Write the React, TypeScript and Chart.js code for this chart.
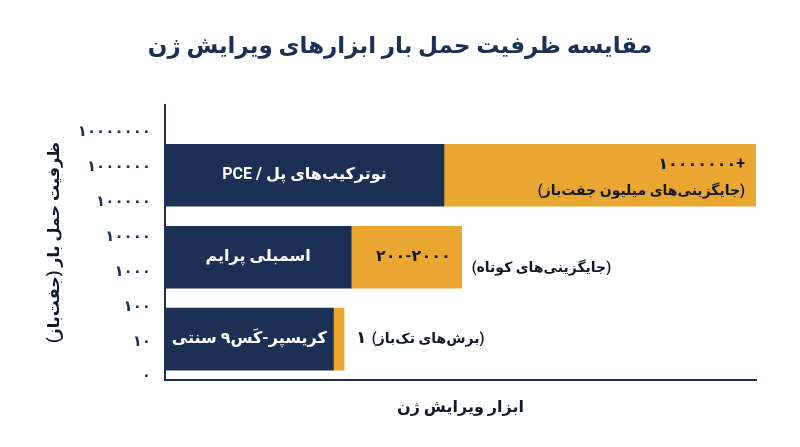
import React, { useEffect, useRef } from "react";
import { Chart, registerables } from "chart.js";

Chart.register(...registerables);

// ---- data ----
const chartTitle = "مقایسه ظرفیت حمل بار ابزارهای ویرایش ژن";
const xTitle = "ابزار ویرایش ژن";
const yTitle = "ظرفیت حمل بار (جفت‌باز)";
const tools = ["نوترکیب‌های پل / PCE", "اسمبلی پرایم", "کریسپر-کَس۹ سنتی"];
const rowPos = [1, 2, 3];
const toolBar = [47.2, 31.5, 28.5];
const rangeBar = [52.8, 18.7, 1.8];
const rangeLabels = ["+۱۰۰۰۰۰۰۰", "۲۰۰-۲۰۰۰", "۱"];
const rangeNotes = ["(جایگزینی‌های میلیون جفت‌باز)", "(جایگزینی‌های کوتاه)", "(برش‌های تک‌باز)"];
const yTickLabels = ["۰", "۱۰", "۱۰۰", "۱۰۰۰", "۱۰۰۰۰", "۱۰۰۰۰۰", "۱۰۰۰۰۰۰", "۱۰۰۰۰۰۰۰"];

const NAVY = "#1b3054";
const ORANGE = "#e9a630";
const FONT = "Roboto, 'DejaVu Sans', sans-serif";

const labelPlugin = {
  id: "barLabels",
  afterDatasetsDraw(chart: any) {
    const ctx = chart.ctx;
    const navy = chart.getDatasetMeta(0);
    const orange = chart.getDatasetMeta(1);
    ctx.save();
    ctx.direction = "rtl";
    ctx.textBaseline = "middle";
    navy.data.forEach((bar: any, i: number) => {
      const p = bar.getProps(["x", "y", "base"], true);
      ctx.font = `bold 16px ${FONT}`;
      ctx.fillStyle = "#ffffff";
      ctx.textAlign = "center";
      ctx.fillText(tools[i], (p.x + p.base) / 2, p.y);
    });
    orange.data.forEach((bar: any, i: number) => {
      const p = bar.getProps(["x", "y", "base"], true);
      const pad = 11;
      const valueFont = `bold 16px ${FONT}`;
      const noteFont = `bold 14px ${FONT}`;
      ctx.font = valueFont;
      const vw = ctx.measureText(rangeLabels[i]).width;
      ctx.font = noteFont;
      const nw = ctx.measureText(rangeNotes[i]).width;
      const inner = p.x - p.base - 2 * pad;
      ctx.fillStyle = "#111827";
      if (vw <= inner && nw <= inner) {
        ctx.textAlign = "right";
        ctx.font = valueFont;
        ctx.fillText(rangeLabels[i], p.x - pad, p.y - 10);
        ctx.font = noteFont;
        ctx.fillText(rangeNotes[i], p.x - pad, p.y + 16);
      } else if (vw <= inner + 2 * pad - 8) {
        ctx.textAlign = "right";
        ctx.font = valueFont;
        ctx.fillText(rangeLabels[i], p.x - pad, p.y);
        ctx.textAlign = "left";
        ctx.font = noteFont;
        ctx.fillText(rangeNotes[i], p.x + 10, p.y + 11);
      } else {
        ctx.textAlign = "left";
        ctx.font = `bold 17px ${FONT}`;
        ctx.fillText(rangeLabels[i], p.x + 12, p.y);
        ctx.font = noteFont;
        ctx.fillText(rangeNotes[i], p.x + 12 + vw + 6, p.y);
      }
    });
    ctx.restore();
  },
};

export default function App() {
  const ref = useRef<HTMLCanvasElement>(null);
  useEffect(() => {
    document.body.style.margin = "0";
    const canvas = ref.current!;
    const chart = new Chart(canvas, {
      type: "bar",
      data: {
        datasets: [
          {
            label: "tool",
            data: rowPos.map((y, i) => ({ x: toolBar[i], y })),
            backgroundColor: NAVY,
            xAxisID: "x",
            yAxisID: "yBar",
          },
          {
            label: "range",
            data: rowPos.map((y, i) => ({ x: rangeBar[i], y })),
            backgroundColor: ORANGE,
            xAxisID: "x",
            yAxisID: "yBar",
          },
        ],
      },
      options: {
        indexAxis: "y",
        animation: false,
        responsive: true,
        maintainAspectRatio: false,
        datasets: { bar: { barThickness: 62 } },
        layout: { padding: 0 },
        plugins: {
          legend: { display: false },
          tooltip: { enabled: false },
          title: {
            display: true,
            text: chartTitle,
            color: NAVY,
            font: { family: FONT, size: 23, weight: "bold" },
            padding: { top: 33, bottom: 44.4 },
          },
        },
        scales: {
          x: {
            type: "linear",
            position: "bottom",
            stacked: true,
            min: 0,
            max: 100,
            offset: false,
            grid: { display: false, drawTicks: false },
            ticks: { display: false },
            border: { display: true, color: NAVY, width: 2 },
            title: {
              display: true,
              text: xTitle,
              color: "#111827",
              font: { family: FONT, size: 16, weight: "bold" },
              padding: { top: 0, bottom: 29.4 },
            },
            afterFit: (s: any) => {
              s.height = 67;
            },
          },
          yBar: {
            type: "linear",
            display: true,
            position: "right",
            stacked: true,
            reverse: true,
            offset: false,
            min: 0.143,
            max: 3.498,
            grid: { display: false, drawTicks: false },
            border: { display: false },
            ticks: { display: false },
            afterFit: (s: any) => {
              s.width = 44;
            },
          },
          y: {
            type: "linear",
            position: "left",
            offset: false,
            min: -0.094,
            max: 7.774,
            grid: { display: false, drawTicks: false, offset: false },
            border: { display: true, color: NAVY, width: 2 },
            afterBuildTicks: (s: any) => {
              s.ticks = yTickLabels.map((_, i) => ({ value: i }));
            },
            ticks: {
              padding: 14,
              color: NAVY,
              font: { family: FONT, size: 15, weight: "bold" },
              callback: (v: any) => yTickLabels[Math.round(Number(v))] ?? "",
            },
            title: {
              display: true,
              text: yTitle,
              color: "#111827",
              font: { family: FONT, size: 16, weight: "bold" },
              padding: { top: 45.4, bottom: 0 },
            },
            afterFit: (s: any) => {
              s.width = 165;
            },
          },
        },
      },
      plugins: [labelPlugin],
    } as any);
    return () => chart.destroy();
  }, []);
  return (
    <div style={{ width: 800, height: 447, position: "relative", background: "#fff" }}>
      <canvas ref={ref} style={{ direction: "rtl" }} />
    </div>
  );
}
